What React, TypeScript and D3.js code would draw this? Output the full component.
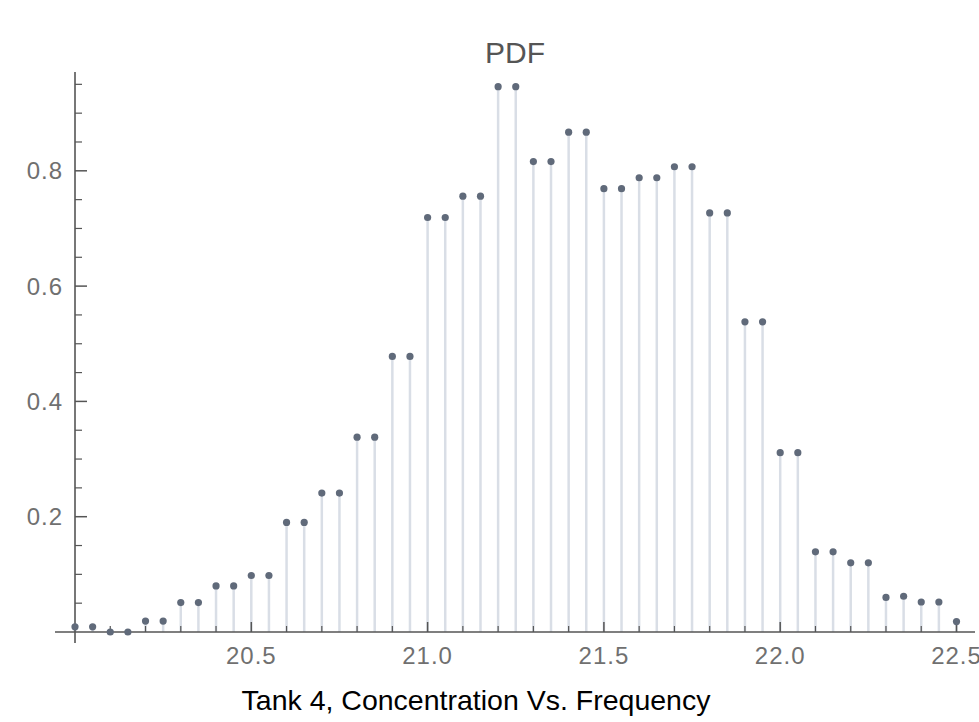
import React from "react";
import * as d3 from "d3";

const xValues: number[] = [
  20.0, 20.05, 20.1, 20.15, 20.2, 20.25, 20.3, 20.35, 20.4, 20.45,
  20.5, 20.55, 20.6, 20.65, 20.7, 20.75, 20.8, 20.85, 20.9, 20.95,
  21.0, 21.05, 21.1, 21.15, 21.2, 21.25, 21.3, 21.35, 21.4, 21.45,
  21.5, 21.55, 21.6, 21.65, 21.7, 21.75, 21.8, 21.85, 21.9, 21.95,
  22.0, 22.05, 22.1, 22.15, 22.2, 22.25, 22.3, 22.35, 22.4, 22.45,
  22.5,
];

const pdfValues: number[] = [
  0.009, 0.009, 0.0, 0.0, 0.019, 0.019, 0.051, 0.051, 0.08, 0.08,
  0.098, 0.098, 0.19, 0.19, 0.241, 0.241, 0.338, 0.338, 0.478, 0.478,
  0.719, 0.719, 0.756, 0.756, 0.946, 0.946, 0.816, 0.816, 0.867, 0.867,
  0.769, 0.769, 0.788, 0.788, 0.807, 0.807, 0.727, 0.727, 0.538, 0.538,
  0.311, 0.311, 0.139, 0.139, 0.12, 0.12, 0.06, 0.062, 0.052, 0.052,
  0.018,
];

const xMajorTicks: number[] = [20.5, 21.0, 21.5, 22.0, 22.5];
const xMajorLabels: string[] = ["20.5", "21.0", "21.5", "22.0", "22.5"];
const xMinorTicks: number[] = [
  20.1, 20.2, 20.3, 20.4, 20.6, 20.7, 20.8, 20.9, 21.1, 21.2, 21.3, 21.4,
  21.6, 21.7, 21.8, 21.9, 22.1, 22.2, 22.3, 22.4,
];
const yMajorTicks: number[] = [0.2, 0.4, 0.6, 0.8];
const yMajorLabels: string[] = ["0.2", "0.4", "0.6", "0.8"];
const yMinorTicks: number[] = [
  0.05, 0.1, 0.15, 0.25, 0.3, 0.35, 0.45, 0.5, 0.55, 0.65, 0.7, 0.75, 0.85,
  0.9, 0.95,
];

const plotTitle = "PDF";
const axisTitle = "Tank 4, Concentration Vs. Frequency";

const W = 979;
const H = 722;
const FONT = "'Liberation Sans', Arial, Helvetica, sans-serif";

export default function App() {
  const x = d3.scaleLinear().domain([20.0, 22.5]).range([75, 956.5]);
  const y = d3.scaleLinear().domain([0, 0.9714]).range([632, 72]);
  const y0 = y(0);
  const x0 = x(20.0);

  const axisColor = "#555555";
  const labelColor = "#707070";

  return (
    <svg
      width={W}
      height={H}
      style={{ position: "absolute", left: 0, top: 0, display: "block", background: "#fff" }}
    >
      {/* stems */}
      <g>
        {xValues.map((xv, i) => (
          <line
            key={"s" + i}
            x1={x(xv)}
            x2={x(xv)}
            y1={y0}
            y2={y(pdfValues[i])}
            stroke="#d9dee6"
            strokeWidth={2.5}
          />
        ))}
      </g>

      {/* axes */}
      <line x1={55} x2={975} y1={y0} y2={y0} stroke={axisColor} strokeWidth={1.6} />
      <line x1={x0} x2={x0} y1={72} y2={643} stroke={axisColor} strokeWidth={1.6} />

      {/* x ticks */}
      {xMajorTicks.map((t, i) => (
        <line key={"xm" + i} x1={x(t)} x2={x(t)} y1={y0} y2={y0 - 10} stroke={axisColor} strokeWidth={1.5} />
      ))}
      {xMinorTicks.map((t, i) => (
        <line key={"xn" + i} x1={x(t)} x2={x(t)} y1={y0} y2={y0 - 6} stroke={axisColor} strokeWidth={1.2} />
      ))}
      {xMajorTicks.map((t, i) => (
        <text
          key={"xl" + i}
          x={x(t)}
          y={664}
          textAnchor="middle"
          fontFamily={FONT}
          fontSize={24}
          letterSpacing={1}
          fill={labelColor}
        >
          {xMajorLabels[i]}
        </text>
      ))}

      {/* y ticks */}
      {yMajorTicks.map((t, i) => (
        <line key={"ym" + i} x1={x0} x2={x0 + 12} y1={y(t)} y2={y(t)} stroke={axisColor} strokeWidth={1.5} />
      ))}
      {yMinorTicks.map((t, i) => (
        <line key={"yn" + i} x1={x0} x2={x0 + 7} y1={y(t)} y2={y(t)} stroke={axisColor} strokeWidth={1.2} />
      ))}
      {yMajorTicks.map((t, i) => (
        <text
          key={"yl" + i}
          x={63}
          y={y(t)}
          dy="0.36em"
          textAnchor="end"
          fontFamily={FONT}
          fontSize={24}
          letterSpacing={1}
          fill={labelColor}
        >
          {yMajorLabels[i]}
        </text>
      ))}

      {/* points */}
      <g>
        {xValues.map((xv, i) => (
          <circle key={"p" + i} cx={x(xv)} cy={y(pdfValues[i])} r={3.6} fill="#606a7a" />
        ))}
      </g>

      {/* titles */}
      <text x={515} y={63} textAnchor="middle" fontFamily={FONT} fontSize={30} fill="#555555">
        {plotTitle}
      </text>
      <text x={476} y={710} textAnchor="middle" fontFamily={FONT} fontSize={28.5} fill="#000000">
        {axisTitle}
      </text>
    </svg>
  );
}
